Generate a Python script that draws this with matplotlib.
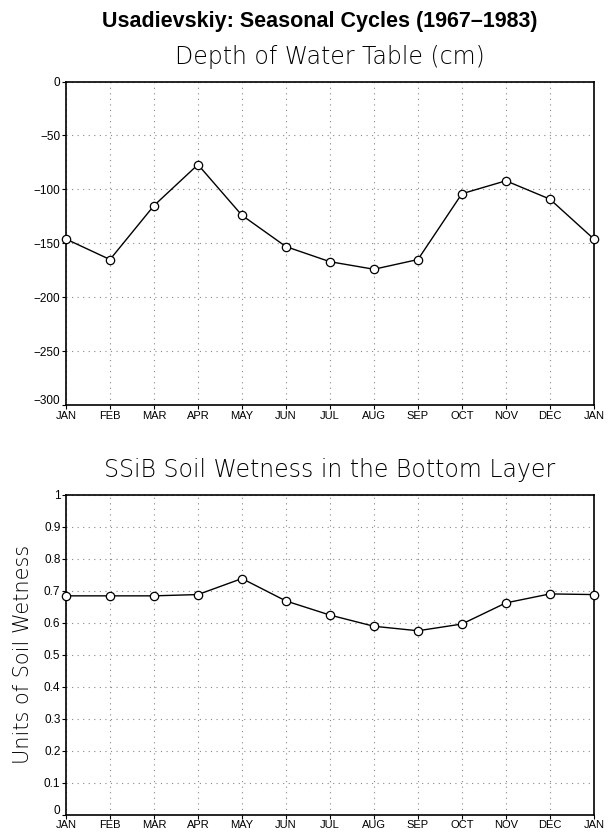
import matplotlib
matplotlib.use("Agg")
import matplotlib.pyplot as plt
import matplotlib.transforms as mtransforms

# Values (JAN .. DEC, JAN repeated)
months = ["JAN", "FEB", "MAR", "APR", "MAY", "JUN", "JUL",
          "AUG", "SEP", "OCT", "NOV", "DEC", "JAN"]
water_table = [-146, -165, -115, -77, -124, -153, -167,
               -174, -165, -104, -92, -109, -146]
soil_wetness = [0.684, 0.684, 0.684, 0.688, 0.738, 0.668, 0.624,
                0.589, 0.575, 0.596, 0.662, 0.690, 0.688]
wt_ticks = [0, -50, -100, -150, -200, -250, -300]
sw_ticks = [0, 0.1, 0.2, 0.3, 0.4, 0.5, 0.6, 0.7, 0.8, 0.9, 1]
sw_labels = ["0", "0.1", "0.2", "0.3", "0.4", "0.5", "0.6", "0.7", "0.8", "0.9", "1"]

thin = "DejaVu Sans"

fig = plt.figure(figsize=(6.11, 8.32), dpi=100)
x = list(range(len(months)))


def style_axes(ax):
    ax.set_xlim(0, len(months) - 1)
    ax.set_xticks(x)
    ax.set_xticklabels(months, fontfamily="Liberation Sans", fontsize=8)
    ax.grid(True, color="#888888", linestyle=(0, (1, 4)), linewidth=0.8)
    ax.tick_params(direction="out", length=3, width=0.8, pad=1)
    for sp in ax.spines.values():
        sp.set_linewidth(1.2)
    for lab in ax.get_yticklabels():
        lab.set_fontfamily("Liberation Sans")
        lab.set_fontsize(8.5)
    # lift the lowest y label a little so it clears the first month label
    low = ax.get_yticklabels()[0]
    low.set_transform(low.get_transform() +
                      mtransforms.ScaledTranslation(0, 4 / 72, fig.dpi_scale_trans))


ax1 = fig.add_axes([0.108, 0.513, 0.864, 0.389])
ax1.plot(x, water_table, color="black", linewidth=1.0, marker="o",
         markersize=6, markerfacecolor="white", markeredgecolor="black",
         markeredgewidth=0.9, clip_on=False, zorder=3)
ax1.set_ylim(-300, 0)
ax1.set_yticks(wt_ticks[::-1])
ax1.set_yticklabels([str(t).replace("-", "\u2212") for t in wt_ticks[::-1]])
style_axes(ax1)

ax2 = fig.add_axes([0.108, 0.0205, 0.864, 0.385])
ax2.plot(x, soil_wetness, color="black", linewidth=1.0, marker="o",
         markersize=6, markerfacecolor="white", markeredgecolor="black",
         markeredgewidth=0.9, clip_on=False, zorder=3)
ax2.set_ylim(0, 1)
ax2.set_yticks(sw_ticks)
ax2.set_yticklabels(sw_labels)
style_axes(ax2)
ax2.set_ylabel("Units of Soil Wetness", fontfamily=thin, fontweight="light",
               fontsize=15, color="black", labelpad=8)

fig.text(0.524, 0.974, "Usadievskiy: Seasonal Cycles (1967\u20131983)",
         ha="center", va="center", fontfamily="Liberation Sans",
         fontweight="bold", fontsize=15.5)
fig.text(0.540, 0.931, "Depth of Water Table (cm)", ha="center", va="center",
         fontfamily=thin, fontweight="light", fontsize=17, color="black")
fig.text(0.540, 0.435, "SSiB Soil Wetness in the Bottom Layer", ha="center",
         va="center", fontfamily=thin, fontweight="light", fontsize=17,
         color="black")

fig.savefig("out.png", dpi=100)
